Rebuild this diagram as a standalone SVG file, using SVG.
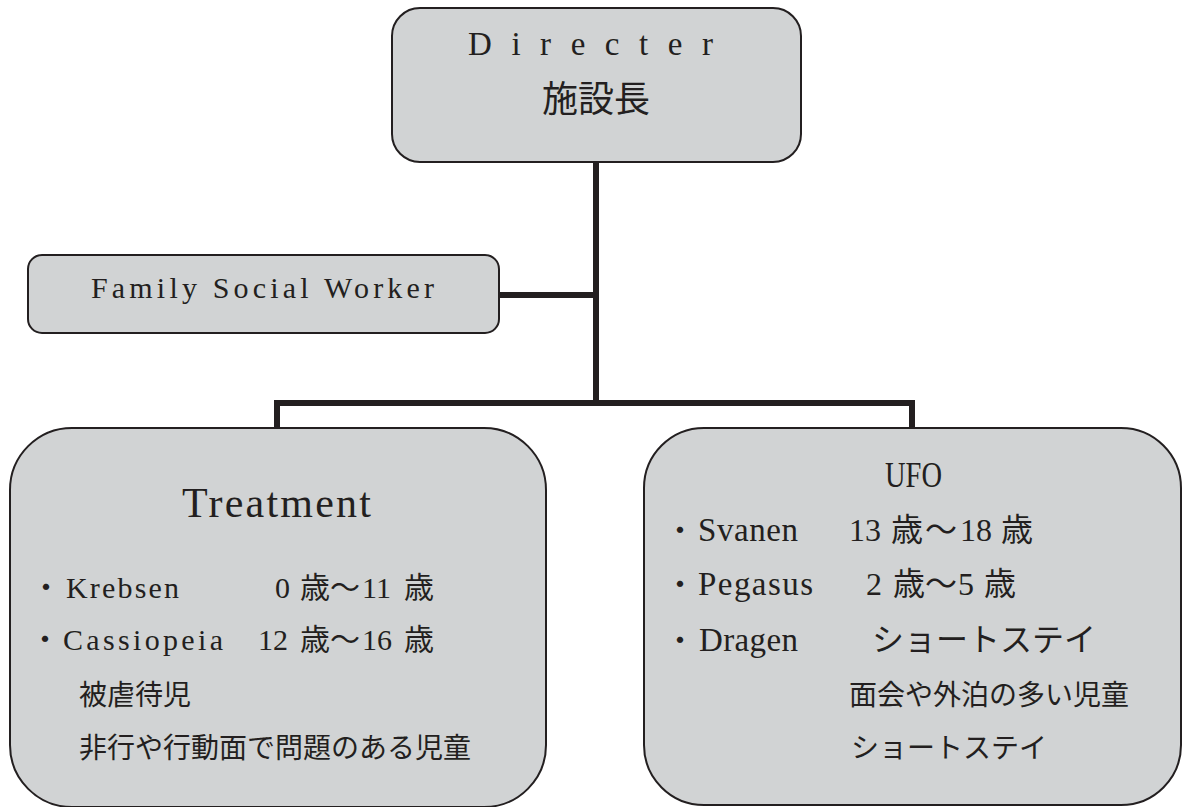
<svg xmlns="http://www.w3.org/2000/svg" width="1183" height="807" viewBox="0 0 1183 807">
<style>
.box{fill:#d1d3d4;stroke:#231f20;stroke-width:2}
.con{fill:none;stroke:#231f20;stroke-width:6;stroke-linejoin:miter;stroke-linecap:butt}
.lat{font-family:"Liberation Serif","Noto Sans CJK JP",serif;fill:#231f20}
.jp{font-family:"Noto Sans CJK JP","Noto Sans",sans-serif;fill:#231f20}
</style>
<rect width="1183" height="807" fill="#ffffff"/>
<g id="connectors">
<path class="con" d="M596,162 V403"/>
<path class="con" d="M499,295 H596"/>
<path class="con" d="M277,429 V403 H912 V429"/>
</g>
<g id="director">
<rect class="box" x="392" y="8" width="409" height="154" rx="28" ry="28"/>
<text class="lat" x="468" y="55" font-size="33" textLength="245" lengthAdjust="spacing">Directer</text>
<text class="jp" x="596" y="112" font-size="36" text-anchor="middle">施設長</text>
</g>
<g id="fsw">
<rect class="box" x="28" y="255" width="471" height="78" rx="14" ry="14"/>
<text class="lat" x="91" y="298" font-size="30" textLength="343" lengthAdjust="spacing">Family  Social  Worker</text>
</g>
<g id="treatment">
<rect class="box" x="10" y="428" width="536" height="379" rx="62" ry="62"/>
<text class="lat" x="182" y="517" font-size="42" textLength="189" lengthAdjust="spacing">Treatment</text>
<text class="jp" x="31" y="598" font-size="30">・</text>
<text class="lat" x="66" y="598" font-size="30" textLength="113" lengthAdjust="spacing">Krebsen</text>
<text class="lat" y="598" font-size="30"><tspan x="275">0</tspan><tspan x="300" class="jp">歳</tspan><tspan x="330" class="jp">～</tspan><tspan x="362">11</tspan><tspan x="404" class="jp">歳</tspan></text>
<text class="jp" x="30" y="650" font-size="30">・</text>
<text class="lat" x="63" y="650" font-size="30" textLength="160" lengthAdjust="spacing">Cassiopeia</text>
<text class="lat" y="650" font-size="30"><tspan x="258">12</tspan><tspan x="300" class="jp">歳</tspan><tspan x="330" class="jp">～</tspan><tspan x="362">16</tspan><tspan x="404" class="jp">歳</tspan></text>
<text class="jp" x="79" y="705" font-size="28">被虐待児</text>
<text class="jp" x="79" y="758" font-size="28">非行や行動面で問題のある児童</text>
</g>
<g id="ufo">
<rect class="box" x="644" y="428" width="537" height="377" rx="60" ry="60"/>
<text class="lat" x="885" y="487" font-size="36" textLength="57" lengthAdjust="spacingAndGlyphs">UFO</text>
<text class="jp" x="665" y="541" font-size="30">・</text>
<text class="lat" x="698" y="541" font-size="33" textLength="100" lengthAdjust="spacing">Svanen</text>
<text class="lat" y="541" font-size="32"><tspan x="849">13</tspan><tspan x="891" class="jp">歳</tspan><tspan x="925" class="jp">～</tspan><tspan x="960">18</tspan><tspan x="1001" class="jp">歳</tspan></text>
<text class="jp" x="665" y="595" font-size="30">・</text>
<text class="lat" x="698" y="595" font-size="33" textLength="115" lengthAdjust="spacing">Pegasus</text>
<text class="lat" y="595" font-size="32"><tspan x="866">2</tspan><tspan x="893" class="jp">歳</tspan><tspan x="925" class="jp">～</tspan><tspan x="958">5</tspan><tspan x="984" class="jp">歳</tspan></text>
<text class="jp" x="665" y="651" font-size="30">・</text>
<text class="lat" x="699" y="651" font-size="33" textLength="99" lengthAdjust="spacing">Dragen</text>
<text class="jp" x="872" y="651" font-size="32">ショートステイ</text>
<text class="jp" x="849" y="705" font-size="28">面会や外泊の多い児童</text>
<text class="jp" x="851" y="758" font-size="28">ショートステイ</text>
</g>
</svg>
